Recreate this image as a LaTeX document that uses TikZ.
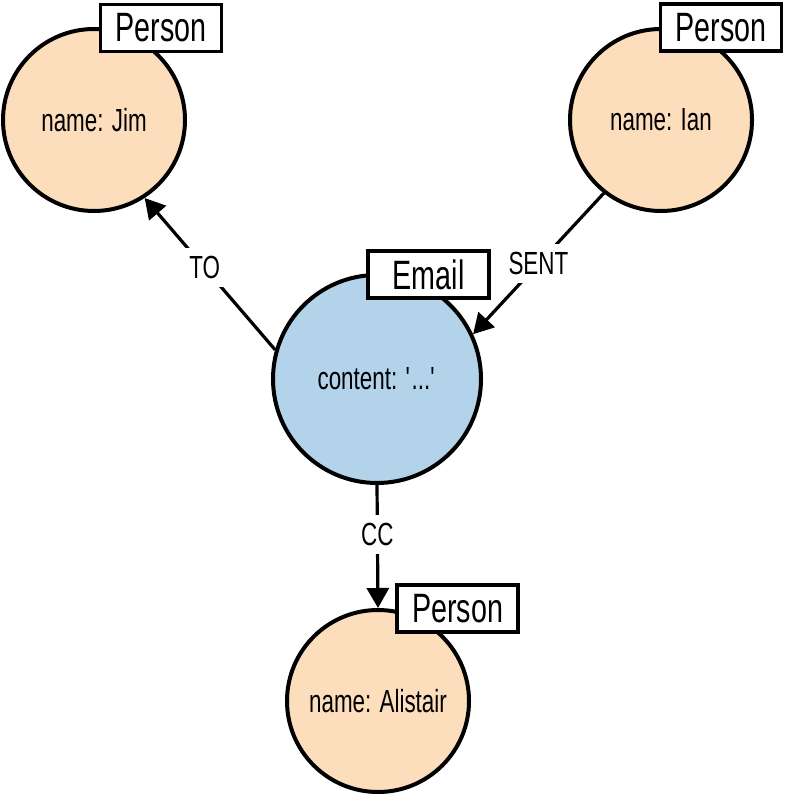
\documentclass[tikz,border=0pt]{standalone}
\usepackage{fontspec}
\setmainfont{Liberation Sans}[FakeStretch=0.7]
\usetikzlibrary{arrows.meta}
\definecolor{Peach}{HTML}{FCDEBD}
\definecolor{SkyBlue}{HTML}{B3D3EA}

\begin{document}
\begin{tikzpicture}[x=0.5pt,y=-0.5pt,
      person/.style={circle,draw=black,line width=2pt,fill=Peach,
        minimum size=91pt,inner sep=0pt,font=\fontsize{16}{18}\selectfont},
      email/.style={person,fill=SkyBlue,minimum size=104pt},
      tag/.style={draw=black,line width=1.6pt,fill=white,minimum width=60.5pt,
        minimum height=23.5pt,inner sep=0pt,font=\fontsize{20.5}{23}\selectfont},
      rel/.style={-{Triangle[length=10pt,width=11pt]},line width=1.6pt},
      rellabel/.style={fill=white,inner sep=4pt,font=\fontsize{16}{18}\selectfont}
    ]
      \useasboundingbox (0,0) rectangle (784,795);
      \node[person] (jim) at (94,120) {name: Jim};
      \node[person] (ian) at (661,120) {name: Ian};
      \node[email] (mail) at (377,379) {content: \textquotesingle...\textquotesingle};
      \node[person] (alistair) at (378,701) {name: Alistair};
      \node[tag] (jimtag) at (161,28) {Person};
      \node[tag] (iantag) at (721,27.5) {Person};
      \node[tag] (mailtag) at (428.5,274.5) {Email};
      \node[tag] (alistairtag) at (457.5,608.5) {Person};
      \draw[rel] (mail.164) -- node[rellabel,pos=0.54] {TO} (jim.-57);
      \draw[rel] (ian.232) -- node[rellabel,pos=0.5] {SENT} (mail.25);
      \draw[rel] (mail.south) -- node[rellabel,pos=0.4] {CC} (alistair.north);
    \end{tikzpicture}
\end{document}
